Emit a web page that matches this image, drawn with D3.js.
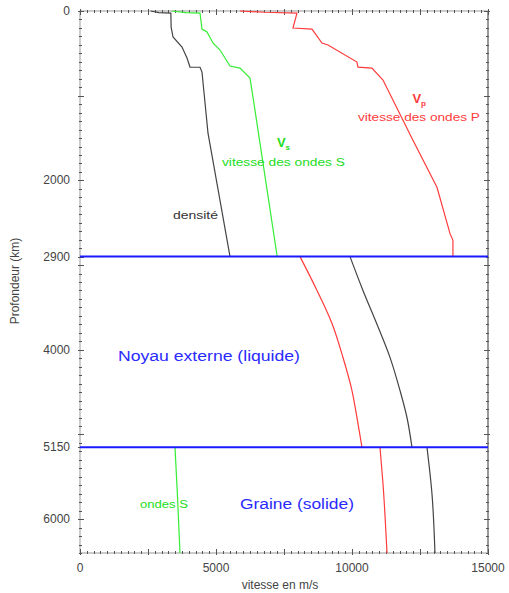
<!DOCTYPE html>
<html>
<head>
<meta charset="utf-8">
<script src="https://cdn.jsdelivr.net/npm/d3@7"></script>
<style>
  body { margin: 0; background: #fff; }
  text { font-family: "Liberation Sans", Arial, sans-serif; }
</style>
</head>
<body>
<div id="chart"></div>
<script>
//profiles: [depth km, value]
//densite (x1000) in black
var densiteManteau = [[0, 2600], [20, 2900], [24, 3340], [190, 3350], [307, 3420], [426, 3750], [556, 3934],
    [662, 4044], [664, 4412], [721, 4485], [1443, 4706], [2235, 5147], [2900, 5515]];
var densiteNoyau = [[2900, 9926], [3300, 10403], [3700, 10918], [4090, 11396], [4480, 11764], [4800, 12021], [5150, 12204]];
var densiteGraine = [[5150, 12756], [5700, 12940], [6400, 13050]];
//ondes S in green
var vitesseSManteau = [[0, 3380], [20, 3900], [24, 4412], [213, 4485], [248, 4669], [378, 4890], [461, 5147],
    [650, 5515], [674, 5882], [792, 6250], [1017, 6360], [2900, 7250]];
var vitesseSGraine = [[5150, 3492], [5700, 3580], [6400, 3676]];
//ondes P in red
var vitessePManteau = [[0, 5880], [15, 6800], [24, 7977], [201, 7830], [213, 8529], [378, 8896], [402, 9117],
    [603, 10183], [662, 10219], [674, 10734], [816, 11139], [1526, 12241], [2082, 13124],
    [2626, 13601], [2708, 13711], [2900, 13711]];
var vitessePNoyau = [[2900, 8088], [3300, 8713], [3690, 9265], [4092, 9669], [4482, 9999], [4802, 10183], [5150, 10366]];
var vitessePGraine = [[5150, 11028], [5580, 11139], [6400, 11286]];

var limites = [2900, 5150];
var yTicks = [0, 2000, 2900, 4000, 5150, 6000];
var xTicks = [0, 5000, 10000, 15000];

//svg dimensions
var svgWidth = 509;
var svgHeight = 593;
var margin = {top: 11, right: 21, bottom: 40, left: 80};
var width = svgWidth - margin.left - margin.right;
var height = svgHeight - margin.top - margin.bottom;

var svg = d3.select("#chart")
    .append("svg")
    .attr("width", svgWidth)
    .attr("height", svgHeight);

var chartGroup = svg.append("g")
    .attr("transform", `translate(${margin.left}, ${margin.top})`);

//scales
var x = d3.scaleLinear().domain([0, 15000]).range([0, width]);
var y = d3.scaleLinear().domain([0, 6400]).range([0, height]);

//frame
chartGroup.append("rect")
    .attr("width", width)
    .attr("height", height)
    .attr("fill", "none")
    .attr("stroke", "#999")
    .attr("stroke-width", 1);
chartGroup.append("line")
    .attr("x1", width).attr("x2", width)
    .attr("y1", 0).attr("y2", height)
    .attr("stroke", "#999")
    .attr("stroke-width", 2);

//small ticks crossing the frame
var ticksG = chartGroup.append("g").attr("stroke", "#555").attr("stroke-width", 1);
function yTicksOn(xpos, values, len) {
    ticksG.append("g")
        .selectAll("line")
        .data(values)
        .enter()
        .append("line")
        .attr("x1", xpos - len / 2)
        .attr("x2", xpos + len)
        .attr("y1", d => Math.round(y(d)) + 0.5)
        .attr("y2", d => Math.round(y(d)) + 0.5);
}
function xTicksOn(ypos, values, len) {
    ticksG.append("g")
        .selectAll("line")
        .data(values)
        .enter()
        .append("line")
        .attr("x1", d => Math.round(x(d)) + 0.5)
        .attr("x2", d => Math.round(x(d)) + 0.5)
        .attr("y1", ypos - len)
        .attr("y2", ypos + len / 2);
}
var minorY = d3.range(0, 6401, 100);
var minorX = d3.range(0, 15001, 250);
yTicksOn(0, minorY, 2);
yTicksOn(width, minorY, -2);
xTicksOn(0, minorX, -2);
xTicksOn(height, minorX, 2);
yTicksOn(0, d3.range(0, 6001, 1000).concat([2900, 5150]), 4);
yTicksOn(width, d3.range(0, 6001, 1000), -4);
xTicksOn(0, d3.range(0, 15001, 2500), -4);
xTicksOn(height, d3.range(0, 15001, 2500), 4);

//tick labels
chartGroup.append("g")
    .selectAll("text")
    .data(yTicks)
    .enter()
    .append("text")
    .attr("x", -10)
    .attr("y", d => y(d) + 4)
    .attr("text-anchor", "end")
    .attr("font-size", 12)
    .attr("fill", "#444")
    .text(d => d);
chartGroup.append("g")
    .selectAll("text")
    .data(xTicks)
    .enter()
    .append("text")
    .attr("x", d => x(d))
    .attr("y", height + 19)
    .attr("text-anchor", "middle")
    .attr("font-size", 12)
    .attr("fill", "#444")
    .text(d => d);

//axis titles
svg.append("text")
    .attr("x", margin.left + width / 2 - 4)
    .attr("y", 589)
    .attr("text-anchor", "middle")
    .attr("font-size", 12)
    .attr("fill", "#444")
    .text("vitesse en m/s");
svg.append("text")
    .attr("transform", "translate(19, 281) rotate(-90)")
    .attr("text-anchor", "middle")
    .attr("font-size", 12)
    .attr("fill", "#444")
    .text("Profondeur (km)");

//curves: mantle drawn straight, core layers smoothed
var lineStraight = d3.line()
    .x(d => x(d[1]))
    .y(d => y(d[0]));
var lineSmooth = d3.line()
    .x(d => x(d[1]))
    .y(d => y(d[0]))
    .curve(d3.curveMonotoneY);

var noir = "#444", vert = "#33ee33", rouge = "#ff3b3b";
var courbes = [
    {data: densiteManteau, color: noir, smooth: false},
    {data: densiteNoyau, color: noir, smooth: true},
    {data: densiteGraine, color: noir, smooth: true},
    {data: vitesseSManteau, color: vert, smooth: false},
    {data: vitesseSGraine, color: vert, smooth: true},
    {data: vitessePManteau, color: rouge, smooth: false},
    {data: vitessePNoyau, color: rouge, smooth: true},
    {data: vitessePGraine, color: rouge, smooth: true}
];
chartGroup.append("g")
    .selectAll("path")
    .data(courbes)
    .enter()
    .append("path")
    .attr("d", d => d.smooth ? lineSmooth(d.data) : lineStraight(d.data))
    .attr("fill", "none")
    .attr("stroke", d => d.color)
    .attr("stroke-width", 1.2);

//core boundaries
chartGroup.append("g")
    .selectAll("line")
    .data(limites)
    .enter()
    .append("line")
    .attr("x1", 0)
    .attr("x2", width)
    .attr("y1", d => y(d))
    .attr("y2", d => y(d))
    .attr("stroke", "#1a1aff")
    .attr("stroke-width", 2);

//labels, placed in data units
var labels = [
    {t: "densité", v: 3420, z: 2460, c: "#333", s: 11, w: 45},
    {t: "vitesse des ondes S", v: 5220, z: 1835, c: "#22dd22", s: 11, w: 123},
    {t: "vitesse des ondes P", v: 10219, z: 1300, c: rouge, s: 11, w: 122},
    {t: "Noyau externe (liquide)", v: 1397, z: 4130, c: "#2a2aff", s: 14, w: 182},
    {t: "Graine (solide)", v: 5882, z: 5880, c: "#2a2aff", s: 14, w: 114},
    {t: "ondes S", v: 2206, z: 5868, c: "#22dd22", s: 10, w: 48}
];
chartGroup.append("g")
    .selectAll("text")
    .data(labels)
    .enter()
    .append("text")
    .attr("x", d => x(d.v))
    .attr("y", d => y(d.z))
    .attr("font-size", d => d.s)
    .attr("fill", d => d.c)
    .attr("textLength", d => d.w)
    .attr("lengthAdjust", "spacingAndGlyphs")
    .text(d => d.t);

//V with subscript
var symboles = [
    {t: "V", sub: "s", v: 7240, z: 1600, c: "#22dd22"},
    {t: "V", sub: "p", v: 12220, z: 1090, c: rouge}
];
var sym = chartGroup.append("g")
    .selectAll("text")
    .data(symboles)
    .enter()
    .append("text")
    .attr("x", d => x(d.v))
    .attr("y", d => y(d.z))
    .attr("font-size", 13)
    .attr("font-weight", "bold")
    .attr("fill", d => d.c);
sym.append("tspan").text(d => d.t);
sym.append("tspan")
    .attr("dy", 3)
    .attr("font-size", 8)
    .text(d => d.sub);
</script>
</body>
</html>
